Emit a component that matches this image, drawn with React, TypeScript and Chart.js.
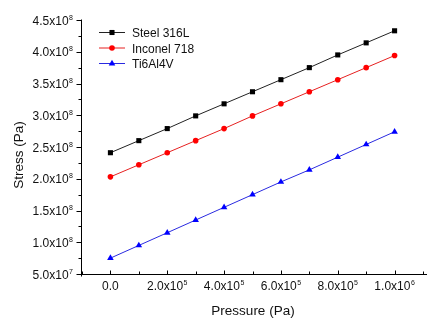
import React, { useEffect, useRef } from 'react';
import { Chart, registerables } from 'chart.js';

Chart.register(...registerables);

// ---- data ----
const pressures = [0, 1e5, 2e5, 3e5, 4e5, 5e5, 6e5, 7e5, 8e5, 9e5, 1e6];
const steel316L = [2.41e8, 2.60e8, 2.79e8, 2.99e8, 3.18e8, 3.37e8, 3.56e8, 3.75e8, 3.95e8, 4.14e8, 4.33e8];
const inconel718 = [2.03e8, 2.22e8, 2.41e8, 2.60e8, 2.79e8, 2.99e8, 3.18e8, 3.37e8, 3.56e8, 3.75e8, 3.94e8];
const ti6Al4V = [0.75e8, 0.95e8, 1.15e8, 1.35e8, 1.55e8, 1.75e8, 1.95e8, 2.14e8, 2.34e8, 2.54e8, 2.74e8];
const seriesNames = ['Steel 316L', 'Inconel 718', 'Ti6Al4V'];

const xTickValues = [0, 2e5, 4e5, 6e5, 8e5, 1e6];
const xTickLabels = ['0.0', '2.0x10^5', '4.0x10^5', '6.0x10^5', '8.0x10^5', '1.0x10^6'];
const yTickValues = [5e7, 1e8, 1.5e8, 2e8, 2.5e8, 3e8, 3.5e8, 4e8, 4.5e8];
const yTickLabels = ['5.0x10^7', '1.0x10^8', '1.5x10^8', '2.0x10^8', '2.5x10^8', '3.0x10^8', '3.5x10^8', '4.0x10^8', '4.5x10^8'];
const xTitle = 'Pressure (Pa)';
const yTitle = 'Stress (Pa)';

const X_MIN = -1e5, X_MAX = 1.1e6, X_MINOR = 1e5;
const Y_MIN = 5e7, Y_MAX = 4.5e8, Y_MINOR = 2.5e7;

const FONT = '"Liberation Sans", Arial, sans-serif';
const TEXT = '#111';

function drawSupLabel(ctx: CanvasRenderingContext2D, label: string, x: number, baseline: number, align: 'right' | 'center') {
  const [main, exp] = label.split('^');
  ctx.font = `12px ${FONT}`;
  const mw = ctx.measureText(main).width;
  ctx.font = `7px ${FONT}`;
  const ew = exp ? ctx.measureText(exp).width + 0.5 : 0;
  const total = mw + ew;
  const start = align === 'right' ? x - total : x - total / 2;
  ctx.textAlign = 'left';
  ctx.textBaseline = 'alphabetic';
  ctx.fillStyle = TEXT;
  ctx.font = `12px ${FONT}`;
  ctx.fillText(main, start, baseline);
  if (exp) {
    ctx.font = `7px ${FONT}`;
    ctx.fillText(exp, start + mw + 0.5, baseline - 5);
  }
}

const axesPlugin = {
  id: 'originAxes',
  afterDraw(chart: any) {
    const ctx: CanvasRenderingContext2D = chart.ctx;
    const xs = chart.scales.x;
    const ys = chart.scales.y;
    const area = chart.chartArea;
    const ax = Math.round(area.left) - 0.5;
    const ay = Math.round(area.bottom) + 0.5;
    ctx.save();
    ctx.strokeStyle = '#000';
    ctx.lineWidth = 1;
    ctx.beginPath();
    // axis lines
    ctx.moveTo(ax, Math.round(area.top) - 0.5);
    ctx.lineTo(ax, ay + 2);
    ctx.moveTo(ax - 4, ay);
    ctx.lineTo(chart.width, ay);
    // y ticks (outward)
    for (let v = Y_MIN; v <= Y_MAX + 1; v += Y_MINOR) {
      const py = Math.round(ys.getPixelForValue(v)) + 0.5;
      const major = Math.abs((v / 5e7) - Math.round(v / 5e7)) < 1e-6;
      ctx.moveTo(ax - (major ? 5 : 3), py);
      ctx.lineTo(ax, py);
    }
    // x ticks (inward)
    for (let v = X_MIN; v <= X_MAX + 1; v += X_MINOR) {
      const px = Math.round(xs.getPixelForValue(v)) + 0.5;
      const major = Math.abs((v / 2e5) - Math.round(v / 2e5)) < 1e-6;
      ctx.moveTo(px, ay);
      ctx.lineTo(px, ay - (major ? 4 : 3));
    }
    ctx.stroke();

    // tick labels
    yTickValues.forEach((v, i) => {
      const py = ys.getPixelForValue(v);
      drawSupLabel(ctx, yTickLabels[i], 73, py + 4.5, 'right');
    });
    xTickValues.forEach((v, i) => {
      const px = xs.getPixelForValue(v);
      drawSupLabel(ctx, xTickLabels[i], px, ay + 15, 'center');
    });

    // titles
    ctx.fillStyle = TEXT;
    ctx.font = `13.5px ${FONT}`;
    ctx.textAlign = 'center';
    ctx.textBaseline = 'alphabetic';
    ctx.fillText(xTitle, (area.left + area.right) / 2 + 0.5, 314.5);
    ctx.save();
    ctx.translate(23, 155);
    ctx.rotate(-Math.PI / 2);
    ctx.fillText(yTitle, 0, 0);
    ctx.restore();

    // legend
    const ds = chart.data.datasets;
    ds.forEach((d: any, i: number) => {
      const cy = 32.5 + i * 15.5;
      ctx.strokeStyle = d.borderColor;
      ctx.lineWidth = 1;
      ctx.beginPath();
      ctx.moveTo(99, cy);
      ctx.lineTo(125, cy);
      ctx.stroke();
      ctx.fillStyle = d.pointBackgroundColor;
      ctx.strokeStyle = d.pointBorderColor;
      (Chart as any).helpers?.drawPoint;
      drawPointShape(ctx, d.pointStyle, d.pointRadius, 112, cy);
      ctx.fillStyle = TEXT;
      ctx.font = `12px ${FONT}`;
      ctx.textAlign = 'left';
      ctx.textBaseline = 'alphabetic';
      ctx.fillText(d.label, 132, cy + 4.5);
    });
    ctx.restore();
  },
};

function drawPointShape(ctx: CanvasRenderingContext2D, style: string, r: number, x: number, y: number) {
  ctx.beginPath();
  if (style === 'rect') {
    const s = Math.SQRT1_2 * r;
    ctx.rect(x - s, y - s, 2 * s, 2 * s);
  } else if (style === 'triangle') {
    const a = Math.PI / 6;
    ctx.moveTo(x, y - r);
    ctx.lineTo(x + Math.cos(a) * r, y + Math.sin(a) * r);
    ctx.lineTo(x - Math.cos(a) * r, y + Math.sin(a) * r);
    ctx.closePath();
  } else {
    ctx.arc(x, y, r, 0, Math.PI * 2);
  }
  ctx.fill();
}

export default function App() {
  const ref = useRef<HTMLCanvasElement | null>(null);
  useEffect(() => {
    if (!ref.current) return;
    const mk = (vals: number[]) => vals.map((v, i) => ({ x: pressures[i], y: v }));
    const chart = new Chart(ref.current, {
      type: 'line',
      data: {
        datasets: [
          {
            label: seriesNames[0], data: mk(steel316L), borderColor: '#222', borderWidth: 1,
            pointStyle: 'rect', pointRadius: 3.6, pointBackgroundColor: '#000', pointBorderColor: '#000', pointBorderWidth: 0,
          },
          {
            label: seriesNames[1], data: mk(inconel718), borderColor: '#e62020', borderWidth: 1,
            pointStyle: 'circle', pointRadius: 2.8, pointBackgroundColor: '#ff0000', pointBorderColor: '#ff0000', pointBorderWidth: 0,
          },
          {
            label: seriesNames[2], data: mk(ti6Al4V), borderColor: '#2a2ae0', borderWidth: 1,
            pointStyle: 'triangle', pointRadius: 3.8, pointBackgroundColor: '#0000ff', pointBorderColor: '#0000ff', pointBorderWidth: 0,
          },
        ] as any,
      },
      options: {
        animation: false,
        responsive: false,
        devicePixelRatio: 1,
        events: [],
        layout: { padding: { top: 20, right: 2, left: 0, bottom: 0 } },
        plugins: { legend: { display: false }, tooltip: { enabled: false } },
        elements: { line: { tension: 0 } },
        scales: {
          x: {
            type: 'linear', min: X_MIN, max: X_MAX,
            ticks: { display: false }, grid: { display: false }, border: { display: false },
            afterFit: (s: any) => { s.height = 48; },
          },
          y: {
            type: 'linear', min: Y_MIN, max: Y_MAX,
            ticks: { display: false }, grid: { display: false }, border: { display: false },
            afterFit: (s: any) => { s.width = 82; },
          },
        },
      } as any,
      plugins: [axesPlugin],
    });
    return () => chart.destroy();
  }, []);
  return (
    <div style={{ position: 'fixed', left: 0, top: 0, width: 427, height: 322, background: '#fff' }}>
      <canvas ref={ref} width={427} height={322} style={{ display: 'block', width: 427, height: 322 }} />
    </div>
  );
}
